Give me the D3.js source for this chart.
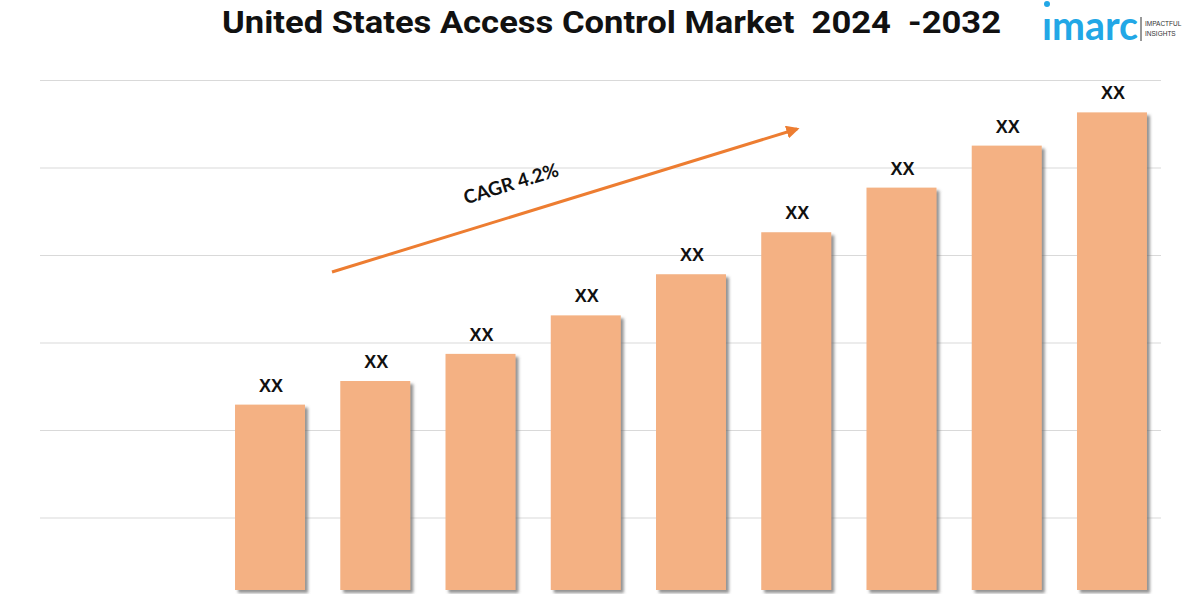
<!DOCTYPE html>
<html>
<head>
<meta charset="utf-8">
<script src="https://cdn.jsdelivr.net/npm/d3@7"></script>
<style>
  html, body { margin: 0; padding: 0; background: #ffffff; }
  svg { display: block; }
</style>
</head>
<body>
<svg id="chart" width="1200" height="600"></svg>
<script>
// ---- data ----
const years = ["2024", "2025", "2026", "2027", "2028", "2029", "2030", "2031", "2032"];
const values = [2.29, 2.56, 2.87, 3.31, 3.78, 4.26, 4.77, 5.25, 5.63];
const valueLabels = ["XX", "XX", "XX", "XX", "XX", "XX", "XX", "XX", "XX"];
const gridTicks = [1, 2, 3, 4, 5, 6];
const titleText = "United States Access Control Market  2024  -2032";
const cagrText = "CAGR 4.2%";

// ---- layout ----
const W = 1200, H = 600;
const svg = d3.select("#chart");

const defs = svg.append("defs");
const shadow = defs.append("filter").attr("id", "shadow")
  .attr("x", "-20%").attr("y", "-20%").attr("width", "140%").attr("height", "140%");
shadow.append("feDropShadow")
  .attr("dx", 3).attr("dy", 3).attr("stdDeviation", 1.4)
  .attr("flood-color", "#6e6e6e").attr("flood-opacity", 0.75);

defs.append("clipPath").attr("id", "plotclip")
  .append("rect").attr("x", 0).attr("y", 0).attr("width", W).attr("height", 594);

defs.append("marker").attr("id", "arrowhead")
  .attr("viewBox", "0 0 10 10").attr("refX", 8).attr("refY", 5)
  .attr("markerWidth", 4.4).attr("markerHeight", 4.4).attr("orient", "auto")
  .append("path").attr("d", "M0,0 L10,5 L0,10 z").attr("fill", "#ED7D31");

const x = d3.scaleBand().domain(years).range([217.4, 1164.6]).paddingInner(0.335).paddingOuter(0.1675);
const y = d3.scaleLinear().domain([0, 6]).range([605, 80]);

// gridlines
const grid = svg.append("g")
  .attr("transform", "translate(40,0)")
  .call(d3.axisLeft(y).tickValues(gridTicks).tickSize(-1121).tickFormat(""));
grid.select(".domain").remove();
grid.selectAll(".tick line").attr("stroke", "#d9d9d9").attr("stroke-width", 1.2);

// bars
const plot = svg.append("g").attr("clip-path", "url(#plotclip)");
plot.selectAll("rect.bar").data(values).join("rect")
  .attr("class", "bar")
  .attr("x", (d, i) => x(years[i]))
  .attr("y", d => y(d))
  .attr("width", x.bandwidth())
  .attr("height", d => y(0) - y(d) - 15)
  .attr("fill", "#F4B183")
  .attr("filter", "url(#shadow)");

// value labels
svg.selectAll("text.vlabel").data(values).join("text")
  .attr("class", "vlabel")
  .attr("x", (d, i) => x(years[i]) + x.bandwidth() / 2 + 1)
  .attr("y", d => y(d) - 13)
  .attr("text-anchor", "middle")
  .attr("font-family", "Liberation Sans, Arial, sans-serif")
  .attr("font-weight", "bold")
  .attr("font-size", 18)
  .attr("fill", "#111")
  .text((d, i) => valueLabels[i]);

// CAGR arrow
const a0 = [332, 272], a1 = [797, 129];
svg.append("line")
  .attr("x1", a0[0]).attr("y1", a0[1]).attr("x2", a1[0]).attr("y2", a1[1])
  .attr("stroke", "#ED7D31").attr("stroke-width", 3)
  .attr("marker-end", "url(#arrowhead)");
const ang = Math.atan2(a1[1] - a0[1], a1[0] - a0[0]) * 180 / Math.PI;
svg.append("text")
  .attr("transform", `translate(513,190) rotate(${ang})`)
  .attr("text-anchor", "middle")
  .attr("font-family", "Lato, 'Open Sans', sans-serif")
  .attr("font-weight", "bold")
  .attr("font-size", 19)
  .attr("fill", "#111")
  .text(cagrText);

// title
svg.append("text")
  .attr("x", 222).attr("y", 33)
  .attr("font-family", "Roboto, sans-serif")
  .attr("font-weight", "bold")
  .attr("font-size", 32)
  .attr("fill", "#111")
  .style("white-space", "pre")
  .attr("textLength", 779)
  .attr("lengthAdjust", "spacingAndGlyphs")
  .text(titleText);

// logo
const logo = svg.append("g");
logo.append("text")
  .attr("x", 1042).attr("y", 40)
  .attr("font-family", "Lato, 'Noto Sans', sans-serif")
  .attr("font-weight", "bold")
  .attr("font-size", 40)
  .attr("fill", "#22A7E6")
  .attr("textLength", 96)
  .attr("lengthAdjust", "spacingAndGlyphs")
  .text("\u0131marc");
logo.append("circle").attr("cx", 1047).attr("cy", 4).attr("r", 3).attr("fill", "#22A7E6");
logo.append("line").attr("x1", 1141).attr("x2", 1141).attr("y1", 17).attr("y2", 41)
  .attr("stroke", "#333").attr("stroke-width", 1);
logo.append("text").attr("x", 1145).attr("y", 26)
  .attr("font-family", "Liberation Sans, Arial, sans-serif").attr("font-size", 6.5)
  .attr("fill", "#333").text("IMPACTFUL");
logo.append("text").attr("x", 1145).attr("y", 36)
  .attr("font-family", "Liberation Sans, Arial, sans-serif").attr("font-size", 6.5)
  .attr("fill", "#333").text("INSIGHTS");
</script>
</body>
</html>
